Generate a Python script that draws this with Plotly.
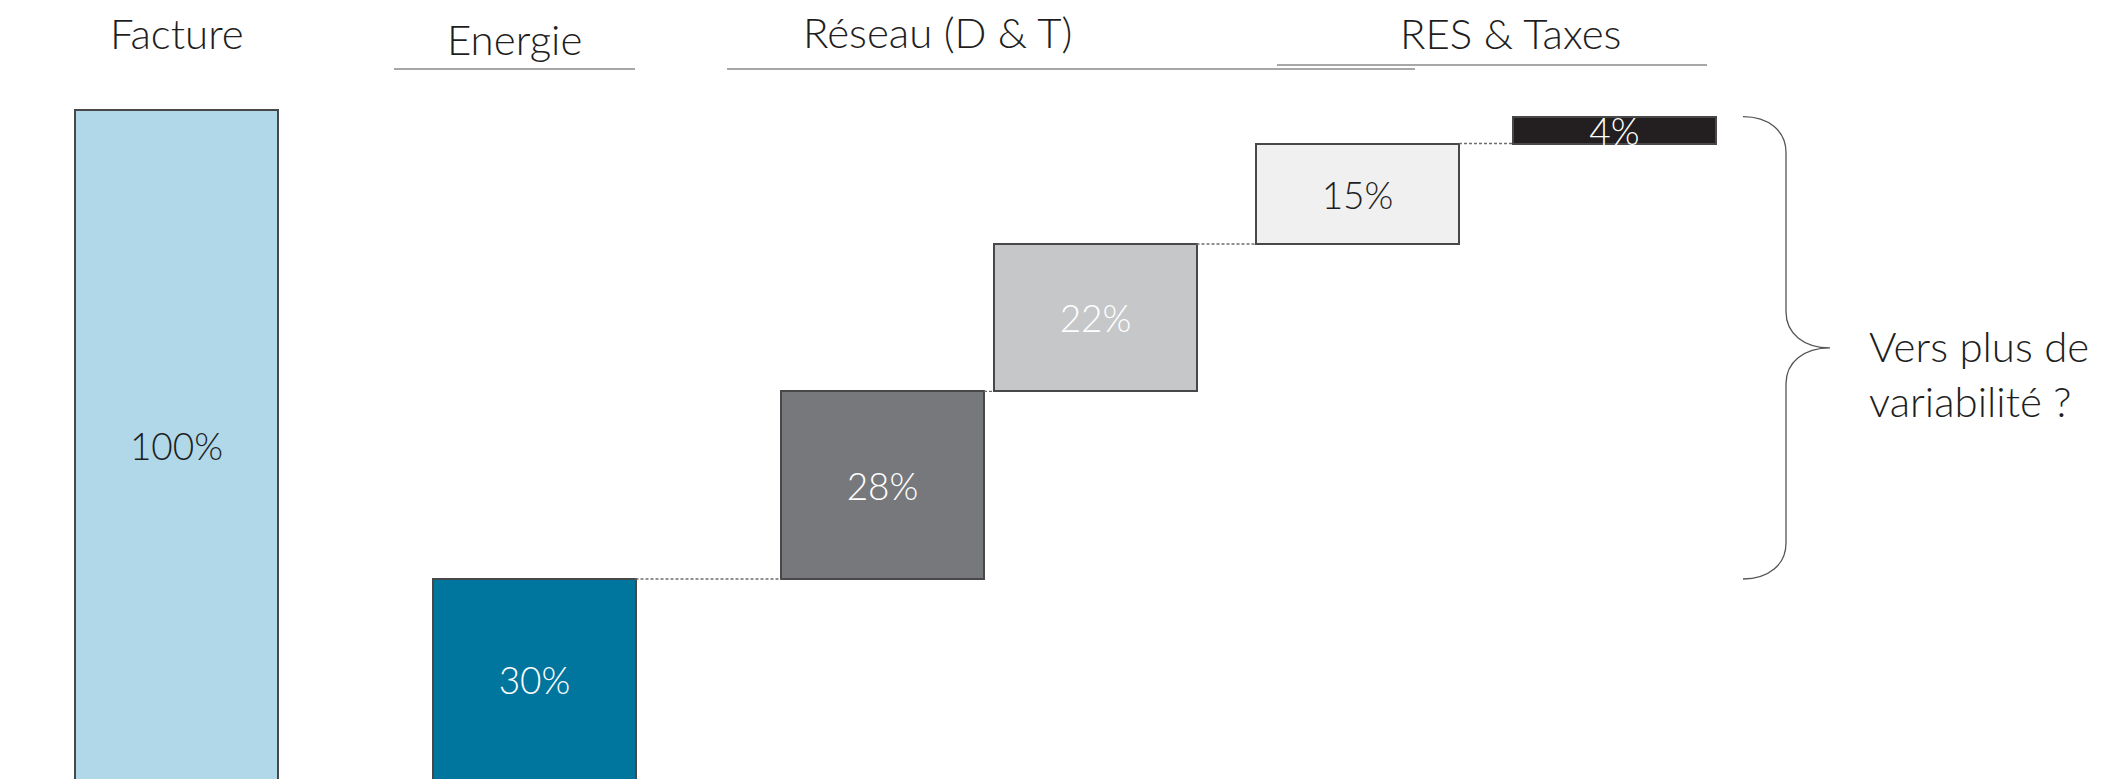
import plotly.graph_objects as go

# data
bar_names = ["Facture", "Energie", "Réseau D", "Réseau T", "RES", "Taxes"]
bar_values = [100, 30, 28, 22, 15, 4]
bar_labels = ["100%", "30%", "28%", "22%", "15%", "4%"]
group_names = ["Facture", "Energie", "Réseau (D & T)", "RES & Taxes"]
note_text = "Vers plus de<br>variabilité ?"

# stacked bases: total bar starts at 0, the parts pile up on each other
bar_bases = [0]
running = 0
for v in bar_values[1:]:
    bar_bases.append(running)
    running += v

# layout: x axis in page pixels, y axis in % (page body has an 8px margin)
W, H = 2114, 779
OFF = 8
x_centers = [176.5, 534, 882.5, 1095, 1357.5, 1614]
bar_w = 203
fills = ["#b1d8e9", "#00759e", "#77787c", "#c6c7c9", "#f0f0f0", "#231f20"]
label_colors = ["#1e1e1e", "white", "white", "white", "#1e1e1e", "white"]
k = 6.70       # px per %
base_px = 780  # pixel row of 0% (just below the window, bars run off the bottom)
FONT = "Lato"


def py(p):
    # page pixel row -> y value
    return (base_px - p) / k


fig = go.Figure()
fig.add_trace(go.Bar(
    x=x_centers, y=bar_values, base=bar_bases, width=bar_w,
    marker=dict(color=fills, line=dict(color="#48484a", width=2)),
    text=bar_labels, textposition="inside", insidetextanchor="middle",
    textangle=0, constraintext="none",
    textfont=dict(family=FONT, size=37, color=label_colors, weight=300),
    hoverinfo="skip", showlegend=False,
))

# dashed connectors between stacked pieces
for i in range(1, len(bar_values) - 1):
    top = bar_bases[i] + bar_values[i]
    fig.add_shape(type="line", x0=x_centers[i] + bar_w / 2, x1=x_centers[i + 1] - bar_w / 2,
                  y0=top, y1=top, line=dict(color="#6e6e6e", width=1.3, dash="3px,2px"))

# group headers and underlines
header_x = [177, 514, 937, 1510]
header_y = [33, 39, 32, 33]
underlines = [None, (394, 635, 69), (727, 1415, 69), (1277, 1707, 65)]
for name, hx, hy, ul in zip(group_names, header_x, header_y, underlines):
    fig.add_annotation(x=hx, y=py(hy), text=name, showarrow=False,
                       xanchor="center", yanchor="middle",
                       font=dict(family=FONT, size=42, color="#1e1e1e", weight=300))
    if ul:
        fig.add_shape(type="line", x0=ul[0], x1=ul[1], y0=py(ul[2]), y1=py(ul[2]),
                      line=dict(color="#8a8a8a", width=1.5))

# curly brace spanning the pieces (from stack top down to Energie top)
y_top = bar_bases[-1] + bar_values[-1]
y_bot = bar_bases[1] + bar_values[1]
y_mid = (y_top + y_bot) / 2
xa, xb, xc = 1743, 1786, 1830
r = 36 / k
path = (f"M {xa},{y_top} C {xa + 0.6 * (xb - xa)},{y_top} {xb},{y_top - 0.4 * r} {xb},{y_top - r} "
        f"L {xb},{y_mid + r} C {xb},{y_mid + 0.4 * r} {xb + 0.4 * (xc - xb)},{y_mid} {xc},{y_mid} "
        f"C {xb + 0.4 * (xc - xb)},{y_mid} {xb},{y_mid - 0.4 * r} {xb},{y_mid - r} "
        f"L {xb},{y_bot + r} C {xb},{y_bot + 0.4 * r} {xa + 0.6 * (xb - xa)},{y_bot} {xa},{y_bot}")
fig.add_shape(type="path", path=path, line=dict(color="#555555", width=1.3))

fig.add_annotation(x=1867, y=py(373), text=note_text, showarrow=False,
                   xanchor="left", yanchor="middle", align="left",
                   font=dict(family=FONT, size=42, color="#1e1e1e", weight=300))

fig.update_layout(
    width=W - OFF, height=H - OFF, margin=dict(l=0, r=0, t=0, b=0),
    plot_bgcolor="white", paper_bgcolor="white",
    xaxis=dict(range=[OFF, W], visible=False, fixedrange=True),
    yaxis=dict(range=[py(H), py(OFF)], visible=False, fixedrange=True),
    bargap=0,
)

fig.write_html("out.html")
